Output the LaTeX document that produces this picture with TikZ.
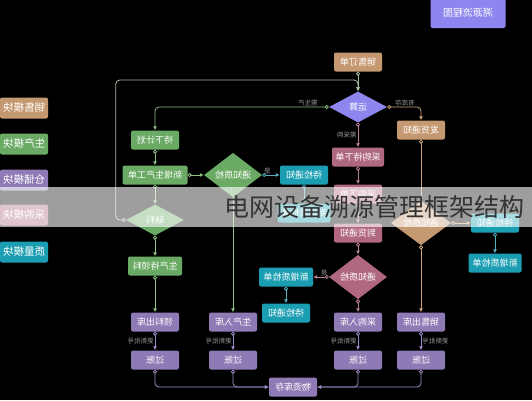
\documentclass[tikz,border=0pt]{standalone}
\usepackage{fontspec}
\usepackage{graphicx}
\usetikzlibrary{shapes.geometric,arrows.meta}
\newfontfamily\cjk{Noto Sans CJK SC}
\definecolor{sales}{RGB}{196,152,112}
\definecolor{production}{RGB}{106,170,100}
\definecolor{storage}{RGB}{142,122,180}
\definecolor{purchase}{RGB}{176,104,128}
\definecolor{quality}{RGB}{28,158,178}
\definecolor{calc}{RGB}{140,134,238}
\definecolor{hintgray}{RGB}{150,150,150}
\definecolor{loopline}{RGB}{168,190,160}
\definecolor{prodline}{RGB}{140,192,130}
\definecolor{salesline}{RGB}{200,162,124}
\definecolor{buyline}{RGB}{186,124,146}
\definecolor{storeline}{RGB}{156,138,200}
\definecolor{qualline}{RGB}{80,176,192}
\definecolor{mark}{RGB}{52,52,52}
\newcommand{\mr}[1]{\reflectbox{#1}}
\tikzstyle{box}=[rectangle, rounded corners=2pt, minimum width=48pt, minimum height=19pt, inner sep=1pt, text=white, font=\cjk\fontsize{9}{9}\selectfont]
\tikzstyle{choice}=[diamond, minimum width=58pt, minimum height=31pt, inner sep=0pt, text=white, font=\cjk\fontsize{9}{9}\selectfont]
\tikzstyle{legend}=[box, minimum height=21pt, font=\cjk\fontsize{10.5}{10.5}\selectfont]
\tikzstyle{hint}=[text=hintgray, inner sep=1pt, font=\cjk\fontsize{6.5}{6.5}\selectfont]
\tikzset{flow/.style={line width=0.8pt, rounded corners=4pt, {Circle[length=4pt,fill=black]}-{Latex[length=4pt,width=4pt]}}}

\begin{document}
\begin{tikzpicture}[x=1pt,y=-1pt]
  \useasboundingbox (0,0) rectangle (532,400);
  \fill[black] (0,0) rectangle (532,400);

  \draw (468,13) node[box,fill=calc,minimum width=75pt,minimum height=30pt,font=\cjk\fontsize{10}{10}\selectfont] (title) {\mr{溯源流程图}};

  %% Legend things
  \draw (24,108) node[legend,fill=sales] (L1) {\mr{销售模块}};
  \draw (24,144) node[legend,fill=production] (L2) {\mr{生产模块}};
  \draw (24,180) node[legend,fill=storage] (L3) {\mr{仓储模块}};
  \draw (24,215) node[legend,fill=purchase] (L4) {\mr{采购模块}};
  \draw (24,252) node[legend,fill=quality] (L5) {\mr{质量模块}};

  \draw (358,62) node[box,fill=sales] (order) {\mr{销售订单}};
  \draw (358,107) node[choice,fill=calc] (calc) {\mr{运算}};
  \draw (421,130) node[box,fill=sales] (ship) {\mr{发货通知}};

  \draw (155,140) node[box,fill=production] (plan) {\mr{待下计划}};
  \draw (155,175) node[box,fill=production,minimum width=65pt] (porder) {\mr{新增生产工单}};
  \draw (233,175) node[choice,fill=production] (pcheck) {\mr{通知质检}};
  \draw (304,175) node[box,fill=quality] (pwait) {\mr{待检通知}};
  \draw (304,213) node[box,fill=quality,minimum width=53pt] (pqc) {\mr{新增质检单}};
  \draw (155,220) node[choice,fill=production] (lack) {\mr{缺料}};
  \draw (155,266) node[box,fill=production,minimum width=54pt] (ppick) {\mr{生产待领料}};

  \draw (358,157) node[box,fill=purchase,minimum width=52pt] (buy1) {\mr{采购待下单}};
  \draw (358,194) node[box,fill=purchase] (buy2) {\mr{采购下单}};
  \draw (358,233) node[box,fill=purchase] (arrive) {\mr{到货通知}};
  \draw (358,277) node[choice,fill=purchase] (bcheck) {\mr{通知质检}};
  \draw (286,277) node[box,fill=quality,minimum width=54pt] (bqc) {\mr{新增质检单}};
  \draw (286,313) node[box,fill=quality] (bwait) {\mr{待检通知}};

  \draw (421,223) node[choice,fill=sales,minimum width=60pt] (scheck) {\mr{通知质检}};
  \draw (495,223) node[box,fill=quality] (swait) {\mr{待检通知}};
  \draw (495,263) node[box,fill=quality,minimum width=53pt] (sqc) {\mr{新增质检单}};

  \draw (155,322) node[box,fill=storage] (out1) {\mr{领料出库}};
  \draw (233,322) node[box,fill=storage] (in1) {\mr{生产入库}};
  \draw (358,322) node[box,fill=storage] (in2) {\mr{采购入库}};
  \draw (421,322) node[box,fill=storage] (out2) {\mr{销售出库}};
  \draw (155,360) node[box,fill=storage] (post1) {\mr{过账}};
  \draw (233,360) node[box,fill=storage] (post2) {\mr{过账}};
  \draw (358,360) node[box,fill=storage] (post3) {\mr{过账}};
  \draw (421,360) node[box,fill=storage] (post4) {\mr{过账}};
  \draw (293,387) node[box,fill=storage] (stock) {\mr{物资库存}};

  \coordinate (join) at (358,80);

  \draw[flow,color=loopline] (order) -- (calc);
  \draw[flow,color=loopline] (lack.west) -- ++(-10,0) |- (join) -- (calc.north);
  \draw[flow,color=prodline] (calc.west) -| (plan.north) node[hint,pos=0.06,above] {\mr{需生产}};
  \draw[flow,color=salesline] (calc.east) -| (ship.north) node[hint,pos=0.26,above] {\mr{有库存}};
  \draw[flow,color=buyline] (calc.south) -- (buy1.north) node[hint,midway,left] {\mr{需采购}};

  \draw[flow,color=prodline] (plan) -- (porder);
  \draw[flow,color=prodline] (porder) -- (pcheck);
  \draw[flow,color=qualline] (pcheck) -- (pwait) node[hint,pos=0.3,above] {\mr{是}};
  \draw[flow,color=qualline] (pwait) -- (pqc);
  \draw[flow,color=prodline] (porder) -- (lack);
  \draw[flow,color=prodline] (lack) -- (ppick);
  \draw[flow,color=prodline] (ppick) -- (out1);
  \draw[flow,color=prodline] (pcheck) -- (in1);

  \draw[flow,color=buyline] (buy1) -- (buy2);
  \draw[flow,color=buyline] (buy2) -- (arrive);
  \draw[flow,color=buyline] (arrive) -- (bcheck);
  \draw[flow,color=buyline] (bcheck) -- (bqc) node[hint,pos=0.3,above] {\mr{是}};
  \draw[flow,color=qualline] (bqc) -- (bwait);
  \draw[flow,color=buyline] (bcheck) -- (in2);

  \draw[flow,color=salesline] (ship) -- (scheck);
  \draw[flow,color=salesline] (scheck) -- (swait);
  \draw[flow,color=qualline] (swait) -- (sqc);
  \draw[flow,color=salesline] (scheck) -- (out2);

  \draw[flow,color=storeline] (out1) -- (post1) node[hint,midway,left] {\mr{更新批号}};
  \draw[flow,color=storeline] (in1) -- (post2) node[hint,midway,left] {\mr{更新批号}};
  \draw[flow,color=storeline] (in2) -- (post3) node[hint,midway,left] {\mr{更新批号}};
  \draw[flow,color=storeline] (out2) -- (post4) node[hint,midway,right] {\mr{更新批号}};
  \draw[flow,color=storeline] (post1.south) |- (stock.west);
  \draw[flow,color=storeline] (post2.south) |- (stock.west);
  \draw[flow,color=storeline] (post3.south) |- (stock.east);
  \draw[flow,color=storeline] (post4.south) |- (stock.east);

  %% Overlay band
  \fill[white,opacity=0.62] (0,187) rectangle (532,227);
  \draw (224,207) node[anchor=west,text=mark,inner sep=0pt,font=\cjk\fontsize{25}{25}\selectfont] (caption) {电网设备溯源管理框架结构};
\end{tikzpicture}
\end{document}
